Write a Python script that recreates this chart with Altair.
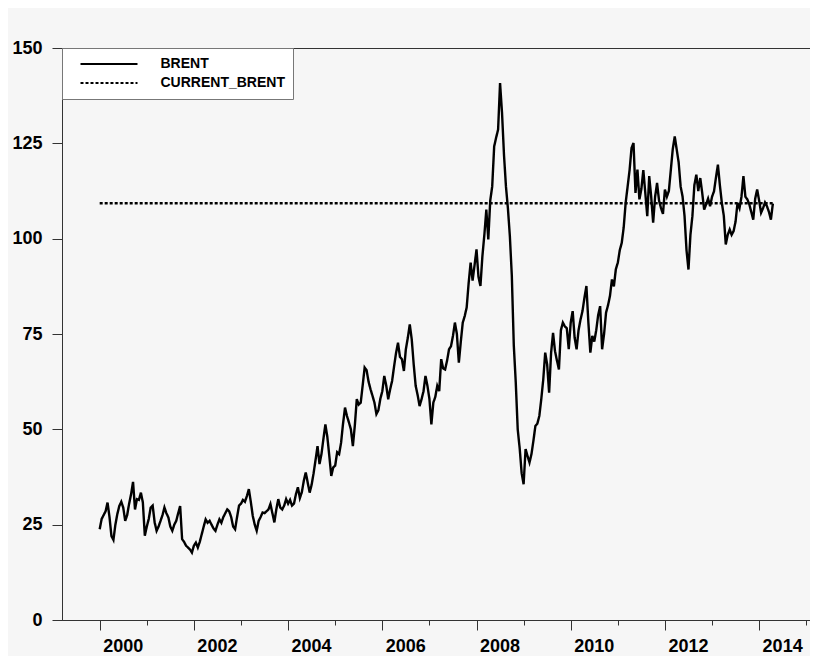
import altair as alt
import pandas as pd

# semi-monthly readings (1st and 15th of each month), Brent USD/bbl
years = list(range(2000, 2015))
brent_2000 = [23.8, 26.5, 27.5, 28.5, 30.8, 27.0, 22.0, 21.0, 25.0, 27.8, 29.9, 31.0,
              29.5, 26.0, 27.5, 30.5, 33.0, 36.2, 29.0, 31.7, 31.5, 33.4, 30.8, 22.1]
brent_2001 = [24.5, 26.5, 29.5, 30.0, 25.6, 23.4, 24.5, 26.0, 27.5, 29.5, 28.0, 26.9,
              24.5, 23.4, 25.0, 26.0, 28.0, 29.9, 21.2, 20.5, 19.5, 19.0, 18.5, 17.7]
brent_2002 = [19.5, 20.3, 19.0, 20.5, 22.5, 24.5, 26.4, 25.5, 26.0, 25.0, 24.0, 23.4,
              25.0, 26.4, 25.5, 27.0, 28.0, 29.0, 28.5, 27.0, 24.5, 23.8, 27.0, 30.0]
brent_2003 = [30.5, 31.5, 31.0, 32.5, 34.3, 31.0, 27.3, 25.0, 23.4, 26.0, 27.0, 28.2,
              28.0, 28.5, 29.0, 30.4, 28.0, 25.6, 29.0, 31.7, 29.5, 29.0, 30.0, 31.7]
brent_2004 = [30.5, 31.5, 30.0, 30.5, 33.0, 34.8, 32.0, 33.5, 36.5, 38.7, 36.0, 33.4,
              35.5, 38.5, 42.0, 45.6, 40.9, 43.5, 47.5, 51.3, 48.0, 43.0, 37.8, 40.0]
brent_2005 = [40.5, 44.0, 43.5, 46.5, 51.5, 55.7, 53.5, 51.8, 50.0, 45.6, 51.0, 57.9,
              56.5, 57.0, 61.5, 66.2, 65.5, 62.5, 60.5, 58.8, 57.0, 54.0, 55.0, 58.0]
brent_2006 = [60.0, 64.0, 61.5, 57.9, 60.5, 62.7, 66.5, 70.0, 72.7, 69.0, 68.4, 65.3,
              71.0, 74.0, 77.5, 73.6, 67.0, 61.4, 59.0, 56.1, 57.9, 60.0, 64.0, 61.4]
brent_2007 = [58.0, 51.3, 57.0, 58.5, 61.4, 60.0, 68.4, 66.0, 65.7, 68.0, 71.0, 71.8,
              74.5, 78.0, 75.0, 67.5, 73.0, 78.0, 79.7, 82.0, 88.4, 93.7, 89.0, 93.0]
brent_2008 = [97.2, 90.0, 87.6, 95.4, 101.0, 107.6, 99.8, 110.0, 113.7, 124.2, 126.5, 128.6,
              140.8, 133.0, 122.0, 113.7, 108.0, 100.6, 90.2, 72.0, 62.3, 50.0, 45.0, 38.5]
brent_2009 = [35.6, 44.8, 43.0, 41.3, 43.5, 47.0, 50.9, 51.5, 53.5, 57.9, 63.0, 70.1,
              67.0, 59.6, 70.0, 75.3, 70.5, 68.0, 65.7, 76.0, 78.0, 77.0, 76.5, 71.0]
brent_2010 = [78.0, 81.0, 74.0, 71.0, 76.0, 78.8, 81.0, 84.5, 87.6, 78.0, 70.1, 74.5,
              73.0, 76.0, 80.0, 82.3, 71.0, 75.0, 80.6, 82.5, 85.0, 89.3, 87.5, 92.0]
brent_2011 = [93.7, 97.0, 98.9, 103.0, 109.4, 113.7, 118.0, 123.8, 125.1, 112.0, 118.1, 110.3,
              113.0, 118.0, 112.0, 105.9, 116.4, 111.0, 104.2, 111.0, 114.6, 110.0, 108.0, 106.5]
brent_2012 = [112.9, 111.0, 112.5, 118.0, 123.5, 126.8, 123.4, 120.0, 113.7, 111.0, 105.9, 97.0,
              91.9, 101.0, 105.9, 114.0, 116.8, 112.5, 115.9, 112.0, 107.6, 109.0, 110.5, 108.5]
brent_2013 = [111.0, 112.4, 116.0, 119.4, 114.0, 109.4, 106.0, 98.5, 101.0, 102.4, 101.0, 102.0,
              104.5, 109.4, 108.0, 111.0, 116.4, 111.0, 110.3, 109.0, 107.0, 105.0, 110.5, 112.9]
brent_2014 = [110.0, 106.8, 108.0, 109.5, 108.5, 107.0, 105.0, 109.2]
brent_by_year = [brent_2000, brent_2001, brent_2002, brent_2003, brent_2004,
                 brent_2005, brent_2006, brent_2007, brent_2008, brent_2009,
                 brent_2010, brent_2011, brent_2012, brent_2013, brent_2014]
current_brent = 109.3

rows = []
for yr, vals in zip(years, brent_by_year):
    for k, v in enumerate(vals):
        rows.append({"t": yr + k / 24, "price": v, "series": "BRENT"})
t_first, t_last = rows[0]["t"], rows[-1]["t"]
rows.append({"t": t_first, "price": current_brent, "series": "CURRENT_BRENT"})
rows.append({"t": t_last, "price": current_brent, "series": "CURRENT_BRENT"})
df = pd.DataFrame(rows)

font = "Liberation Sans"

x_axis = alt.Axis(
    title=None, values=list(range(2000, 2016)), format="d",
    labelExpr="datum.value % 2 == 0 ? datum.label : ''",
    tickSize={"condition": {"test": "datum.value % 2 == 0", "value": 10}, "value": 5},
    labelOffset=23, labelPadding=7, labelOverlap=False, labelFlush=False, labelBound=False,
    grid=False,
)
y_axis = alt.Axis(
    title=None, values=[0, 25, 50, 75, 100, 125, 150], tickSize=10,
    labelPadding=10, grid=False,
)

legend = alt.Legend(
    title=None, orient="none", legendX=0, legendY=0,
    symbolType="stroke", symbolSize=3249, symbolStrokeWidth=2, symbolStrokeColor="black",
    clipHeight=17, rowPadding=2, padding=7.5, symbolOffset=10, labelOffset=22,
    labelFont=font, labelFontSize=14, labelFontWeight="bold", labelColor="black",
    labelBaseline="middle", labelLimit=300,
    fillColor="white", strokeColor="#777",
)

chart = alt.Chart(df).mark_line(color="black", strokeWidth=2.4).encode(
    x=alt.X("t:Q", scale=alt.Scale(domain=[1999.2, 2015.08], nice=False, zero=False), axis=x_axis),
    y=alt.Y("price:Q", scale=alt.Scale(domain=[0, 150], nice=False), axis=y_axis),
    strokeDash=alt.StrokeDash(
        "series:N",
        scale=alt.Scale(domain=["BRENT", "CURRENT_BRENT"], range=[[1, 0], [3, 2]]),
        legend=legend,
    ),
    order="t:Q",
).properties(
    width=748, height=572,
    autosize=alt.AutoSizeParams(type="none"),
    padding={"left": 54, "top": 40, "right": 0, "bottom": 36},
    background="#f6f6f6",
).configure_axis(
    labelFont=font, labelFontSize=18, labelFontWeight="bold", labelColor="black",
    domainColor="#333", tickColor="#333", domainWidth=1, tickWidth=1,
).configure_view(
    stroke="#333", strokeWidth=1,
)

chart.save("out.html", embed_options={"renderer": "svg", "actions": False})
